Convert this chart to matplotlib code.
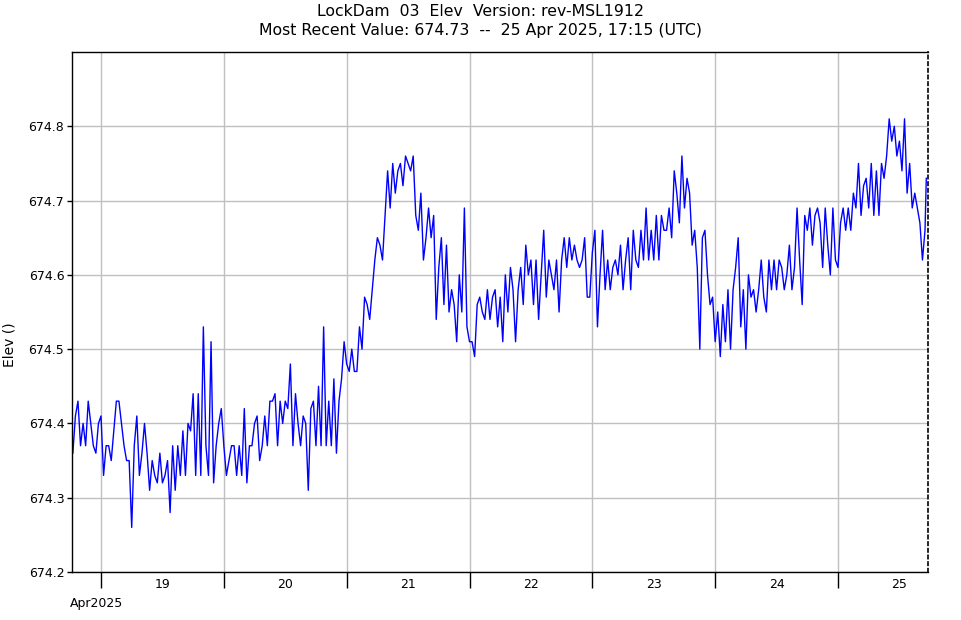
import pandas as pd
import matplotlib
matplotlib.use("Agg")
import matplotlib.pyplot as plt
import matplotlib.dates as mdates

# 30-minute readings, Apr 18 18:30 -> Apr 25 17:00 (UTC), split by day
day1 = [674.36, 674.41, 674.43, 674.37, 674.40, 674.37, 674.43, 674.40, 674.37, 674.36,
        674.40, 674.41, 674.33, 674.37, 674.37, 674.35, 674.39, 674.43, 674.43, 674.40,
        674.37, 674.35, 674.35, 674.26, 674.37, 674.41, 674.33, 674.36, 674.40, 674.36,
        674.31, 674.35, 674.33, 674.32, 674.36, 674.32, 674.33, 674.35, 674.28, 674.37,
        674.31, 674.37, 674.33, 674.39, 674.33, 674.40, 674.39, 674.44, 674.33, 674.44,
        674.33, 674.53, 674.37, 674.33, 674.51, 674.32, 674.37, 674.40, 674.42, 674.37]
day2 = [674.33, 674.35, 674.37, 674.37, 674.33, 674.37, 674.33, 674.42, 674.32, 674.37,
        674.37, 674.40, 674.41, 674.35, 674.37, 674.41, 674.37, 674.43, 674.43, 674.44,
        674.37, 674.43, 674.40, 674.43, 674.42, 674.48, 674.37, 674.44, 674.40, 674.37,
        674.41, 674.40, 674.31, 674.42, 674.43, 674.37, 674.45, 674.37, 674.53, 674.37,
        674.43, 674.37, 674.46, 674.36, 674.43, 674.46, 674.51, 674.48]
day3 = [674.47, 674.50, 674.47, 674.47, 674.53, 674.50, 674.57, 674.56, 674.54, 674.58,
        674.62, 674.65, 674.64, 674.62, 674.68, 674.74, 674.69, 674.75, 674.71, 674.74,
        674.75, 674.72, 674.76, 674.75, 674.74, 674.76, 674.68, 674.66, 674.71, 674.62,
        674.65, 674.69, 674.65, 674.68, 674.54, 674.61, 674.65, 674.56, 674.64, 674.55,
        674.58, 674.56, 674.51, 674.60, 674.55, 674.69, 674.53, 674.51]
day4 = [674.51, 674.49, 674.56, 674.57, 674.55, 674.54, 674.58, 674.54, 674.57, 674.58,
        674.53, 674.57, 674.51, 674.60, 674.55, 674.61, 674.58, 674.51, 674.58, 674.61,
        674.56, 674.64, 674.60, 674.62, 674.56, 674.62, 674.54, 674.60, 674.66, 674.57,
        674.62, 674.60, 674.58, 674.62, 674.55, 674.62, 674.65, 674.61, 674.65, 674.62,
        674.64, 674.62, 674.61, 674.62, 674.65, 674.57, 674.57, 674.63]
day5 = [674.66, 674.53, 674.60, 674.66, 674.58, 674.62, 674.58, 674.61, 674.62, 674.60,
        674.64, 674.58, 674.62, 674.65, 674.58, 674.66, 674.62, 674.61, 674.66, 674.62,
        674.69, 674.62, 674.66, 674.62, 674.68, 674.62, 674.68, 674.66, 674.66, 674.69,
        674.65, 674.74, 674.71, 674.67, 674.76, 674.69, 674.73, 674.71, 674.64, 674.66,
        674.61, 674.50, 674.65, 674.66, 674.60, 674.56, 674.57, 674.51]
day6 = [674.55, 674.49, 674.56, 674.51, 674.58, 674.50, 674.58, 674.61, 674.65, 674.53,
        674.58, 674.50, 674.60, 674.57, 674.58, 674.55, 674.58, 674.62, 674.57, 674.55,
        674.62, 674.58, 674.62, 674.58, 674.62, 674.61, 674.58, 674.60, 674.64, 674.58,
        674.61, 674.69, 674.62, 674.56, 674.68, 674.66, 674.69, 674.64, 674.68, 674.69,
        674.67, 674.61, 674.69, 674.64, 674.60, 674.69, 674.62, 674.61]
day7 = [674.67, 674.69, 674.66, 674.69, 674.66, 674.71, 674.69, 674.75, 674.68, 674.72,
        674.73, 674.69, 674.75, 674.68, 674.74, 674.68, 674.75, 674.73, 674.76, 674.81,
        674.78, 674.80, 674.76, 674.78, 674.74, 674.81, 674.71, 674.75, 674.69, 674.71,
        674.69, 674.67, 674.62, 674.66]
last_time = "2025-04-25 17:15"
last_value = 674.73

elev = day1 + day2 + day3 + day4 + day5 + day6 + day7 + [last_value]
times = list(pd.date_range("2025-04-18 18:30", periods=len(elev) - 1, freq="30min"))
times.append(pd.Timestamp(last_time))

y_ticks = [674.2, 674.3, 674.4, 674.5, 674.6, 674.7, 674.8]

fig = plt.figure(figsize=(9.61, 6.2), dpi=100)
ax = fig.add_axes([72 / 961, 1 - 572 / 620, (928 - 72) / 961, (572 - 52) / 620])

ax.plot(times, elev, color="#0000ff", linewidth=1.0)

ax.set_xlim(pd.Timestamp("2025-04-18 18:20"), pd.Timestamp("2025-04-25 17:35"))
ax.set_ylim(674.2, 674.9)
ax.set_yticks(y_ticks)
ax.set_yticklabels(["%.1f" % v for v in y_ticks])

ax.xaxis.set_major_locator(mdates.DayLocator())
ax.xaxis.set_major_formatter(plt.NullFormatter())
ax.xaxis.set_minor_locator(mdates.HourLocator(byhour=[12]))
ax.xaxis.set_minor_formatter(mdates.DateFormatter("%d"))
ax.tick_params(axis="x", which="major", length=11.5, width=1, direction="out")
ax.tick_params(axis="x", which="minor", length=0, pad=4, labelsize=9)
ax.tick_params(axis="y", length=3.5, width=1, direction="out", labelsize=9, pad=2)

ax.grid(True, which="major", color="#c0c0c0", linewidth=1)
ax.set_axisbelow(True)

for side in ["left", "bottom", "top"]:
    ax.spines[side].set_color("black")
    ax.spines[side].set_linewidth(1.0)
ax.spines["right"].set_linestyle((0, (2, 2)))
ax.spines["right"].set_linewidth(1.2)

fig.text(0.5, 1 - 12 / 620, "LockDam  03  Elev  Version: rev-MSL1912",
         ha="center", va="center", fontsize=11.3)
fig.text(0.5, 1 - 31 / 620, "Most Recent Value: 674.73  --  25 Apr 2025, 17:15 (UTC)",
         ha="center", va="center", fontsize=11.3)
fig.text(10 / 961, 1 - 345 / 620, "Elev ()", rotation=90, ha="center", va="center", fontsize=10)
fig.text(70 / 961, 1 - 604 / 620, "Apr2025", ha="left", va="center", fontsize=9)

fig.savefig("out.png", dpi=100)
